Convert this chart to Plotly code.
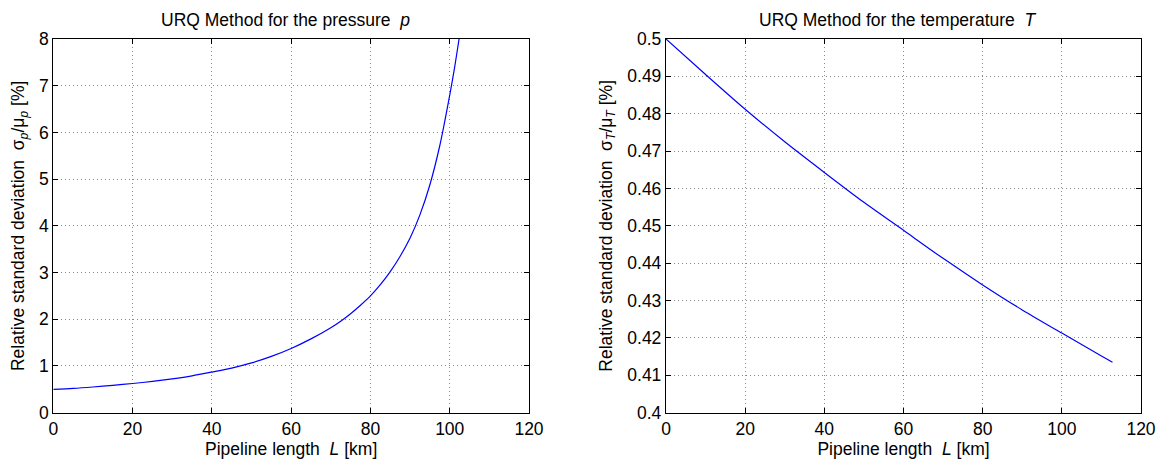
import plotly.graph_objects as go

# Left panel: pressure
L_p = [0, 5, 10, 15, 20, 25, 30, 35, 40, 45, 50, 55, 60, 65, 70, 72.5, 75, 77.5, 80, 82.5, 85, 87.5,
       90, 92.5, 95, 97.5, 100, 101.25, 102.5]
sig_p = [0.50, 0.52, 0.55, 0.585, 0.625, 0.67, 0.725, 0.79, 0.87, 0.955, 1.065, 1.205, 1.375, 1.58, 1.82, 1.96,
         2.12, 2.30, 2.50, 2.74, 3.02, 3.35, 3.74, 4.24, 4.88, 5.72, 6.80, 7.40, 8.08]

# Right panel: temperature
L_T = [0, 10, 20, 30, 40, 50, 60, 70, 80, 90, 100, 110, 112.8]
sig_T = [0.5, 0.4905, 0.4812, 0.4725, 0.4643, 0.4563, 0.4488, 0.4413, 0.4342, 0.4275, 0.4213, 0.4152, 0.4135]

x_ticks = [0, 20, 40, 60, 80, 100, 120]
yp_ticks = [0, 1, 2, 3, 4, 5, 6, 7, 8]
yT_ticks = [0.40, 0.41, 0.42, 0.43, 0.44, 0.45, 0.46, 0.47, 0.48, 0.49, 0.50]
yT_labels = ["0.4", "0.41", "0.42", "0.43", "0.44", "0.45", "0.46", "0.47", "0.48", "0.49", "0.5"]

FONT = "Liberation Sans, Arial, sans-serif"
OFF = 8  # default page body margin
W, H = 1167 - OFF, 459 - OFF


def fx(p):
    return (p - OFF) / W


def fy(p):
    return 1 - (p - OFF) / H


fig = go.Figure()
fig.add_trace(go.Scatter(x=L_p, y=sig_p, mode="lines",
                         line=dict(color="#0000ff", width=1.2, shape="spline", smoothing=0.8),
                         xaxis="x", yaxis="y", showlegend=False))
fig.add_trace(go.Scatter(x=L_T, y=sig_T, mode="lines",
                         line=dict(color="#0000ff", width=1.2, shape="spline", smoothing=0.8),
                         xaxis="x2", yaxis="y2", showlegend=False))

ydom = [fy(412.7), fy(39)]
common = dict(showline=True, linecolor="black", linewidth=1.3, mirror="allticks", ticks="inside",
              ticklen=5, tickcolor="black", showgrid=True, gridcolor="#8a8a8a", griddash="1px,3px",
              gridwidth=1, zeroline=False, automargin=False,
              tickfont=dict(family=FONT, size=17.5, color="black"))

fig.update_layout(
    width=W, height=H, margin=dict(l=0, r=0, t=0, b=0),
    paper_bgcolor="white", plot_bgcolor="white",
    font=dict(family=FONT, size=17.5, color="black"),
    xaxis=dict(domain=[fx(53.3), fx(529)], range=[0, 120], tickvals=x_ticks, anchor="y",
               title=dict(text="Pipeline length  <i>L</i> [km]", standoff=2, font=dict(size=17.5)), **common),
    yaxis=dict(domain=ydom, range=[0, 8], tickvals=yp_ticks, anchor="x",
               title=dict(text="Relative standard deviation  σ<sub><i>p</i></sub>/μ<sub><i>p</i></sub> [%]",
                          standoff=10, font=dict(size=17.5)), **common),
    xaxis2=dict(domain=[fx(666), fx(1141)], range=[0, 120], tickvals=x_ticks, anchor="y2",
                title=dict(text="Pipeline length  <i>L</i> [km]", standoff=2, font=dict(size=17.5)), **common),
    yaxis2=dict(domain=ydom, range=[0.4, 0.5], tickvals=yT_ticks, ticktext=yT_labels, anchor="x2",
                title=dict(text="Relative standard deviation  σ<sub><i>T</i></sub>/μ<sub><i>T</i></sub> [%]",
                           standoff=10, font=dict(size=17.5)), **common),
    annotations=[
        dict(text="URQ Method for the pressure  <i>p</i>", x=fx(285), y=fy(20),
             xref="paper", yref="paper", showarrow=False, xanchor="center", yanchor="middle",
             font=dict(family=FONT, size=17.5)),
        dict(text="URQ Method for the temperature  <i>T</i>", x=fx(898), y=fy(20),
             xref="paper", yref="paper", showarrow=False, xanchor="center", yanchor="middle",
             font=dict(family=FONT, size=17.5)),
    ],
)

fig.write_html("out.html")
